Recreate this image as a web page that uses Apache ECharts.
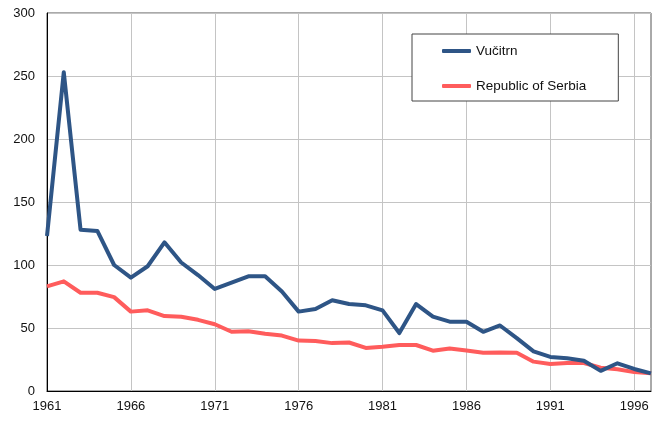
<!DOCTYPE html>
<html>
<head>
<meta charset="utf-8">
<script src="https://cdn.jsdelivr.net/npm/echarts@6/dist/echarts.min.js"></script>
<style>
  html, body { margin: 0; padding: 0; background: #fff; }
  #chart { width: 661px; height: 423px; }
</style>
</head>
<body>
<div id="chart"></div>
<script>
// Years 1961..1997
const years = [];
for (let y = 1961; y <= 1997; y++) years.push(String(y));

const vucitrn = [123, 253, 128, 127, 100, 90, 99, 118, 102, 92,
  81, 86, 91, 91, 79, 63, 65, 72, 69, 68,
  64, 46, 69, 59, 55, 55, 47, 52, 42, 31.5,
  27, 26, 24, 16, 22, 17.5, 14];

const serbia = [83, 87, 78, 78, 74.5, 63, 64, 59.5, 59, 56.5,
  53, 47, 47.5, 45.5, 44, 40, 39.7, 38, 38.5, 34.2,
  35.2, 36.5, 36.5, 32, 33.8, 32.2, 30.4, 30.6, 30.4, 23.3,
  21.5, 22.2, 22.2, 18.5, 17.3, 15, 14];

const font = 'Liberation Sans, Arial, sans-serif';

const chart = echarts.init(document.getElementById('chart'), null, { renderer: 'canvas' });
chart.setOption({
  animation: false,
  grid: {
    left: 47, right: 10, top: 13, bottom: 32,
    show: true, borderColor: '#555', borderWidth: 1
  },
  legend: {
    orient: 'vertical',
    left: 412, top: 34,
    padding: [10, 32, 8, 30],
    itemGap: 21,
    itemWidth: 29, itemHeight: 4,
    icon: 'roundRect',
    borderColor: '#444', borderWidth: 1,
    backgroundColor: '#fff',
    textStyle: { fontFamily: font, fontSize: 13.5, color: '#111' },
    data: ['Vučitrn', 'Republic of Serbia']
  },
  xAxis: {
    type: 'category',
    data: years,
    boundaryGap: false,
    axisLine: { lineStyle: { color: '#000', width: 1 } },
    axisTick: { show: false },
    axisLabel: { interval: 4, margin: 9, fontFamily: font, fontSize: 13, color: '#111' },
    splitLine: { show: true, interval: 4, lineStyle: { color: '#c4c4c4', width: 1 } }
  },
  yAxis: {
    type: 'value',
    min: 0, max: 300, interval: 50,
    axisLine: { show: true, lineStyle: { color: '#000', width: 1 } },
    axisTick: { show: false },
    axisLabel: { margin: 12, fontFamily: font, fontSize: 13, color: '#111' },
    splitLine: { show: true, lineStyle: { color: '#c4c4c4', width: 1 } }
  },
  series: [
    {
      name: 'Vučitrn', type: 'line', data: vucitrn,
      symbol: 'none', color: '#2e5586',
      lineStyle: { width: 4, join: 'round' }, z: 3
    },
    {
      name: 'Republic of Serbia', type: 'line', data: serbia,
      symbol: 'none', color: '#ff5c5c',
      lineStyle: { width: 4, join: 'round' }, z: 2
    }
  ]
});
</script>
</body>
</html>
